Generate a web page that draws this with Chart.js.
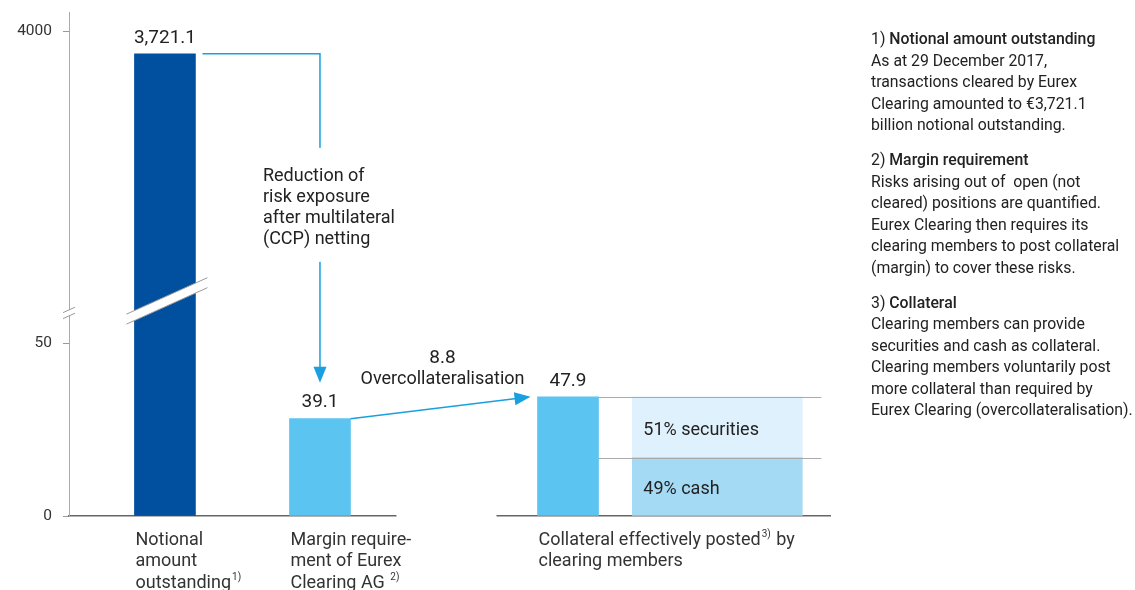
<!DOCTYPE html>
<html>
<head>
<meta charset="utf-8">
<script src="https://cdn.jsdelivr.net/npm/chart.js@4.4.1/dist/chart.umd.min.js"></script>
<style>
  html, body { margin: 0; padding: 0; background: #fff; }
  #wrap { position: relative; width: 1135px; height: 590px; overflow: hidden; }
  #chart { position: absolute; left: 0; top: 0; }
  #notes { position: absolute; left: 871px; top: 28px; font: 15.8px/21.5px Roboto, "Liberation Sans", sans-serif; color: #222; white-space: pre; }
  #notes p { margin: 0 0 13.5px; }
  #notes b { font-weight: 500; }
</style>
</head>
<body>
<div id="wrap">
  <canvas id="chart" width="1135" height="590"></canvas>
  <div id="notes"></div>
</div>
<script>
// ------------------- DATA -------------------
const categories = [
  ['Notional', 'amount', 'outstanding{n}'],
  ['Margin require-', 'ment of Eurex', 'Clearing AG {n}'],
  ['Collateral effectively posted{n} by', 'clearing members']
];
const noteRefs = ['1)', '2)', '3)'];
const values = [3721.1, 39.1, 47.9]; // EUR billion
const collateralTypes = ['cash', 'securities'];
const collateralShares = [49, 51]; // % of collateral posted
const yTicks = [0, 50, 4000];
const calloutText = ['Reduction of', 'risk exposure', 'after multilateral', '(CCP) netting'];
const overcollLabel = 'Overcollateralisation';
const noteTitles = ['Notional amount outstanding', 'Margin requirement', 'Collateral'];
const noteTexts = [
  ['As at 29 December 2017,', 'transactions cleared by Eurex', 'Clearing amounted to €3,721.1', 'billion notional outstanding.'],
  ['Risks arising out of  open (not', 'cleared) positions are quantified.', 'Eurex Clearing then requires its', 'clearing members to post collateral', '(margin) to cover these risks.'],
  ['Clearing members can provide', 'securities and cash as collateral.', 'Clearing members voluntarily post', 'more collateral than required by', 'Eurex Clearing (overcollateralisation).']
];

// ------------------- LAYOUT / STYLE -------------------
const FONT = 'Roboto, "Liberation Sans", sans-serif';
const DARK_BLUE = '#00509F';
const LIGHT_BLUE = '#5BC4F1';
const SPLIT_COLORS = ['#A5DAF5', '#DFF1FC']; // cash, securities
const ARROW = '#1A9FE0';
// slot of each bar on the hidden x axis, last one is the collateral split panel
const xSlots = [1, 2, 3.6, 4.563];
// broken value axis: [value, share of plot height from the bottom]
const yKnots = [[0, 0], [48, 0.237], [50, 0.343], [500, 0.397], [4000, 0.962]];
const breakValue = 500;

// ------------------- BROKEN Y SCALE -------------------
function interp(v, pts, from, to) {
  for (let i = 1; i < pts.length; i++) {
    if (v <= pts[i][from] || i === pts.length - 1) {
      const a = pts[i - 1], b = pts[i];
      return a[to] + (v - a[from]) * (b[to] - a[to]) / (b[from] - a[from]);
    }
  }
}

class BrokenScale extends Chart.LinearScale {
  static id = 'broken';
  getPixelForValue(value) {
    return this.getPixelForDecimal(interp(value, this.options.knots || yKnots, 0, 1));
  }
  getValueForPixel(pixel) {
    return interp(this.getDecimalForPixel(pixel), this.options.knots || yKnots, 1, 0);
  }
}
Chart.register(BrokenScale);

// ------------------- DRAW HELPERS -------------------
function arrowHead(ctx, x, y, dx, dy) {
  const len = Math.hypot(dx, dy), ux = dx / len, uy = dy / len;
  const bx = x - ux * 16, by = y - uy * 16;
  ctx.beginPath();
  ctx.moveTo(x, y);
  ctx.lineTo(bx - uy * 6.5, by + ux * 6.5);
  ctx.lineTo(bx + uy * 6.5, by - ux * 6.5);
  ctx.closePath();
  ctx.fill();
}

// white slanted band with grey edges (axis break)
function drawBreak(ctx, x1, x2, yc, half) {
  const xm = (x1 + x2) / 2, s = 0.45;
  const ya = yc + (xm - x1) * s, yb = yc - (x2 - xm) * s;
  ctx.fillStyle = '#fff';
  ctx.beginPath();
  ctx.moveTo(x1, ya - half); ctx.lineTo(x2, yb - half);
  ctx.lineTo(x2, yb + half); ctx.lineTo(x1, ya + half);
  ctx.closePath();
  ctx.fill();
  ctx.strokeStyle = '#999';
  ctx.lineWidth = 1;
  ctx.beginPath();
  ctx.moveTo(x1, ya - half); ctx.lineTo(x2, yb - half);
  ctx.moveTo(x1, ya + half); ctx.lineTo(x2, yb + half);
  ctx.stroke();
}

// text line with a small raised note reference where {n} stands
function fillWithNote(ctx, line, note, x, y) {
  const parts = line.split('{n}');
  ctx.font = `18px ${FONT}`;
  ctx.fillText(parts[0], x, y);
  if (parts.length < 2) return;
  x += ctx.measureText(parts[0]).width + 1;
  ctx.font = `10px ${FONT}`;
  ctx.fillText(note, x, y - 6);
  x += ctx.measureText(note).width + 1;
  ctx.font = `18px ${FONT}`;
  ctx.fillText(parts[1], x, y);
}

// ------------------- ANNOTATION PLUGIN -------------------
const annotate = {
  id: 'annotate',
  afterDraw(chart) {
    const { ctx, scales: { y } } = chart;
    const bars = chart.getDatasetMeta(0).data;
    const split = [1, 2].map(i => chart.getDatasetMeta(i).data[0]);
    const [b0, b1, b2] = bars;
    ctx.save();

    // gap in the baseline under the overcollateralisation label
    ctx.fillStyle = '#fff';
    ctx.fillRect(b1.x + b1.width / 2 + 46, y.bottom - 4, 100, 8);

    // axis break marks
    const yb = y.getPixelForValue(breakValue);
    drawBreak(ctx, y.right - 6, y.right + 6, yb - 3, 3);
    drawBreak(ctx, b0.x - b0.width / 2 - 8, b0.x + b0.width / 2 + 12, yb - 15, 5);

    // grey guide lines of the collateral split
    const right3 = b2.x + b2.width / 2;
    const panelRight = split[0].x + split[0].width / 2;
    ctx.strokeStyle = '#aaa';
    ctx.lineWidth = 1;
    ctx.beginPath();
    [split[1].y, split[0].y].forEach(yy => {
      ctx.moveTo(right3, Math.round(yy) + 0.5);
      ctx.lineTo(panelRight + 19, Math.round(yy) + 0.5);
    });
    ctx.stroke();

    // value labels
    ctx.fillStyle = '#222';
    ctx.textAlign = 'center';
    ctx.textBaseline = 'middle';
    ctx.font = `19px ${FONT}`;
    bars.forEach((b, i) => {
      ctx.fillText(values[i].toLocaleString('en-US', { minimumFractionDigits: 1 }), b.x, b.y - 16);
    });

    // split labels
    ctx.textAlign = 'left';
    ctx.font = `18px ${FONT}`;
    split.forEach((s, i) => {
      ctx.fillText(`${collateralShares[i]}% ${collateralTypes[i]}`, s.x - s.width / 2 + 11, (s.y + s.base) / 2 + 3);
    });

    // netting callout: from the notional bar down to the margin bar
    const yTip = b1.y - 36;
    ctx.strokeStyle = ARROW;
    ctx.fillStyle = ARROW;
    ctx.lineWidth = 1.5;
    ctx.beginPath();
    ctx.moveTo(b0.x + b0.width / 2 + 7, b0.y);
    ctx.lineTo(b1.x, b0.y);
    ctx.lineTo(b1.x, yTip - 12);
    ctx.stroke();
    arrowHead(ctx, b1.x, yTip, 0, 1);

    ctx.fillStyle = '#fff';
    ctx.fillRect(b1.x - 63, b0.y + 94, 139, 114);
    ctx.fillStyle = '#222';
    ctx.font = `18px ${FONT}`;
    calloutText.forEach((t, i) => ctx.fillText(t, b1.x - 57, b0.y + 123 + i * 21));

    // overcollateralisation arrow
    const x0 = b1.x + b1.width / 2, y0 = b1.y;
    const x1 = b2.x - b2.width / 2 - 7, y1 = b2.y;
    const len = Math.hypot(x1 - x0, y1 - y0);
    ctx.strokeStyle = ARROW;
    ctx.fillStyle = ARROW;
    ctx.beginPath();
    ctx.moveTo(x0, y0);
    ctx.lineTo(x1 - (x1 - x0) / len * 12, y1 - (y1 - y0) / len * 12);
    ctx.stroke();
    arrowHead(ctx, x1, y1, x1 - x0, y1 - y0);

    const xm = (x0 + x1) / 2 + 2;
    ctx.fillStyle = '#222';
    ctx.textAlign = 'center';
    ctx.font = `19px ${FONT}`;
    ctx.fillText((values[2] - values[1]).toFixed(1), xm, b2.y - 39);
    ctx.font = `18px ${FONT}`;
    ctx.fillText(overcollLabel, xm, b2.y - 17);

    // category labels under the bars
    ctx.textAlign = 'left';
    ctx.fillStyle = '#333';
    categories.forEach((lines, i) => {
      const b = bars[i];
      lines.forEach((line, k) => {
        fillWithNote(ctx, line, noteRefs[i], b.x - b.width / 2 + 1, y.bottom + 24 + k * 21.5);
      });
    });

    ctx.restore();
  }
};

// ------------------- CHART -------------------
const ctx = document.getElementById('chart').getContext('2d');
const chart = new Chart(ctx, {
  type: 'bar',
  data: {
    datasets: [
      {
        data: values.map((v, i) => ({ x: xSlots[i], y: v })),
        backgroundColor: [DARK_BLUE, LIGHT_BLUE, LIGHT_BLUE],
        barThickness: 61,
        grouped: false,
        stack: 'main'
      },
      ...collateralTypes.map((t, i) => ({
        label: t,
        data: [{ x: xSlots[3], y: values[2] * collateralShares[i] / 100 }],
        backgroundColor: SPLIT_COLORS[i],
        barThickness: 170,
        grouped: false,
        stack: 'split'
      }))
    ]
  },
  options: {
    responsive: false,
    animation: false,
    events: [],
    layout: { padding: { top: 12, right: 305, left: 0, bottom: 0 } },
    scales: {
      x: {
        type: 'linear',
        min: 0.381,
        max: 5.29,
        offset: false,
        afterFit: s => { s.height = 74; },
        ticks: { display: false },
        grid: { display: false },
        border: { color: '#666', width: 1.5 }
      },
      y: {
        type: 'broken',
        knots: yKnots,
        min: 0,
        max: 4240,
        stacked: true,
        // fixed axis width, no extra room reserved for the end labels
        afterFit: s => { s.width = 69; s.paddingTop = 0; s.paddingBottom = 0; },
        afterBuildTicks: s => { s.ticks = yTicks.map(v => ({ value: v })); },
        ticks: {
          callback: v => String(v),
          font: { size: 15.5, family: FONT },
          color: '#333',
          padding: 11
        },
        grid: { drawOnChartArea: false, drawTicks: true, tickLength: 6, color: '#999' },
        border: { color: '#aaa', width: 1 }
      }
    },
    plugins: {
      legend: { display: false },
      tooltip: { enabled: false }
    }
  },
  plugins: [annotate]
});

// ------------------- NOTES -------------------
const notes = document.getElementById('notes');
noteTitles.forEach((t, i) => {
  const p = document.createElement('p');
  p.innerHTML = `${noteRefs[i]} <b>${t}</b>\n` + noteTexts[i].join('\n');
  notes.appendChild(p);
});
</script>
</body>
</html>
